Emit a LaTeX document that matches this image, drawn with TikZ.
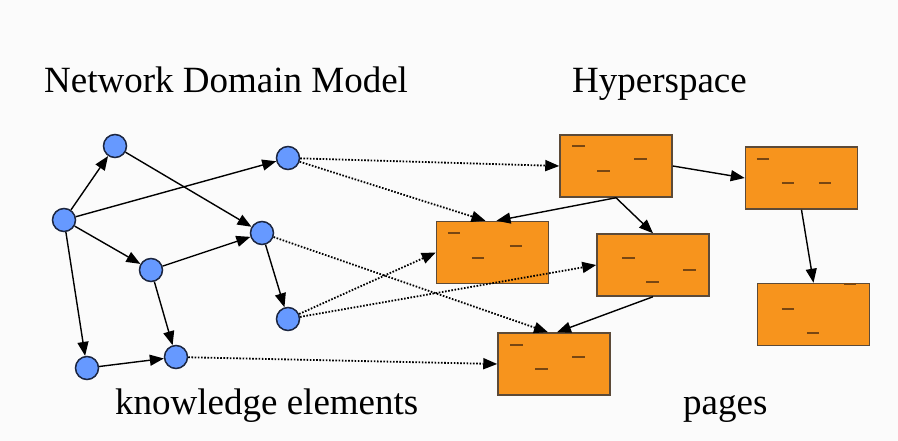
\documentclass[tikz,border=0pt]{standalone}
\usepackage{fontspec}
\setmainfont{Liberation Serif}
\newfontfamily\captionfont{Liberation Serif}
\usetikzlibrary{arrows.meta}
\definecolor{bg}{RGB}{251,251,251}
\definecolor{boxfill}{RGB}{247,148,29}
\definecolor{boxline}{RGB}{92,74,56}
\definecolor{dashc}{RGB}{120,70,18}
\definecolor{dotfill}{RGB}{102,153,255}
\definecolor{dotline}{RGB}{28,38,64}
\tikzset{
  page/.style={draw=boxline, fill=boxfill, line width=1.5pt, minimum width=112pt, minimum height=62pt, inner sep=0pt},
  elem/.style={circle, draw=dotline, fill=dotfill, line width=1.5pt, minimum size=23pt, inner sep=0pt},
  link/.style={line width=1.4pt, -{Triangle[length=14pt,width=11pt]}},
  dotlink/.style={line width=1.8pt, dash pattern=on 1.6pt off 1.6pt, -{Triangle[length=14pt,width=11pt]}},
  mark line/.style={draw=dashc, line width=2.2pt},
  title/.style={anchor=base west, inner sep=0pt, font=\captionfont\fontsize{37}{44}\selectfont}
}
\newcommand{\pagemarks}[2]{%
  \foreach \dx/\dy in {#2}{\draw[mark line] ([shift={(\dx,\dy)}]#1.north west) -- ++(12.5,0);}}
\begin{document}
\begin{tikzpicture}[x=1pt,y=-1pt]
\fill[bg] (0,0) rectangle (898,441);
\useasboundingbox (0,0) rectangle (898,441);
% titles
\node[title] (t1) at (44,93) {Network Domain Model};
\node[title] (t2) at (572,93) {Hyperspace};
\node[title] (t3) at (115,414) {knowledge elements};
\node[title] (t4) at (683,414) {pages};
% pages
\node[page] (R1) at (616,166) {};
\node[page] (R2) at (492.5,252.5) {};
\node[page] (R3) at (653,265) {};
\node[page] (R4) at (554,364) {};
\node[page] (R5) at (801.5,178) {};
\node[page] (R6) at (813.5,314.5) {};
\pagemarks{R1}{13/12,75/25,38/37}
\pagemarks{R2}{12/12,74/25,36/37}
\pagemarks{R3}{26/25,87/37,50/49}
\pagemarks{R4}{13/13,75/25,38/37}
\pagemarks{R5}{12/13,37/37,74/37}
\pagemarks{R6}{87/1,25/26,50/50}
% knowledge elements
\node[elem] (A) at (64,220) {};
\node[elem] (B) at (115,146) {};
\node[elem] (C) at (288,158) {};
\node[elem] (D) at (262,233) {};
\node[elem] (E) at (151,270) {};
\node[elem] (F) at (288,319) {};
\node[elem] (G) at (87,368) {};
\node[elem] (H) at (176,357) {};
% element links
\draw[link] (A) -- (B);
\draw[link] (A) -- (C);
\draw[link] (A) -- (E);
\draw[link] (A) -- (G);
\draw[link] (B) -- (D);
\draw[link] (E) -- (D);
\draw[link] (E) -- (H);
\draw[link] (D) -- (F);
\draw[link] (G) -- (H);
% page links
\draw[link] (R1.east) -- (R5.west);
\draw[link] (R1.south) -- ([xshift=4pt]R2.north);
\draw[link] (R1.south) -- (R3.north);
\draw[link] (R3.south) -- ([xshift=3pt]R4.north);
\draw[link] (R5.south) -- (R6.north);
% mapping links
\draw[dotlink] (C) -- (R1.west);
\draw[dotlink] (C) -- ([xshift=-7pt]R2.north);
\draw[dotlink] (D) -- ([xshift=-6pt]R4.north);
\draw[dotlink] (F) -- (R2.west);
\draw[dotlink] (F) -- (R3.west);
\draw[dotlink] (H) -- (R4.west);
\end{tikzpicture}
\end{document}
